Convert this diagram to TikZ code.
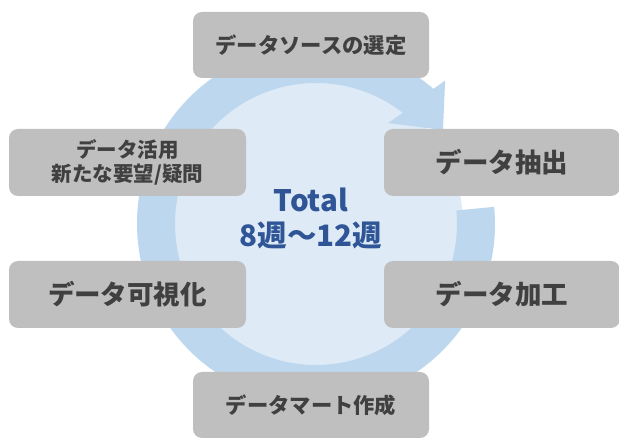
\documentclass[tikz,border=0pt]{standalone}
\usepackage{fontspec}
\setmainfont{Noto Sans CJK JP}
\definecolor{boxgray}{HTML}{BFBFBF}
\definecolor{txtgray}{HTML}{404040}
\definecolor{ringblue}{HTML}{BDD7EE}
\definecolor{diskblue}{HTML}{DEEBF7}
\definecolor{totalblue}{HTML}{2F5597}
\tikzset{
  stepbox/.style={fill=boxgray, rounded corners=9pt, inner sep=0pt, text=txtgray, align=center},
  smalltxt/.style={font=\fontsize{21.3}{25}\selectfont\bfseries},
  bigtxt/.style={font=\fontsize{26.5}{30}\selectfont\bfseries},
}
\begin{document}
\begin{tikzpicture}[x=1pt,y=-1pt]
\useasboundingbox (0,0) rectangle (619,438);
% inner disk
\fill[diskblue] (318,224) circle[radius=145];
% circular arrow
\begin{scope}[shift={(316,224)}]
\fill[ringblue] (-5.5:179) arc[start angle=-5.5, end angle=311, radius=179]
  -- (-48:193) -- (-36.5:158) -- (-54.5:124) -- (-52:141)
  arc[start angle=308, end angle=-5.5, radius=141] -- cycle;
\end{scope}
% center text
\node[text=totalblue, font=\fontsize{29.5}{35}\selectfont\bfseries, align=center] (total) at (311,218) {Total\\8週～12週};
% boxes
\node[stepbox, smalltxt, minimum width=236pt, minimum height=66pt] (src) at (311,45) {データソースの選定};
\node[stepbox, bigtxt, minimum width=236pt, minimum height=67pt] (extract) at (502,162.5) {データ抽出};
\node[stepbox, bigtxt, minimum width=236pt, minimum height=67pt] (process) at (502,294.5) {データ加工};
\node[stepbox, smalltxt, minimum width=236pt, minimum height=66pt] (mart) at (311,405) {データマート作成};
\node[stepbox, bigtxt, minimum width=237pt, minimum height=67pt] (visual) at (127.5,294.5) {データ可視化};
\node[stepbox, font=\fontsize{20.5}{23.5}\selectfont\bfseries, minimum width=237pt, minimum height=67pt] (use) at (127.5,162.5) {データ活用\\新たな要望/疑問};
\end{tikzpicture}
\end{document}
